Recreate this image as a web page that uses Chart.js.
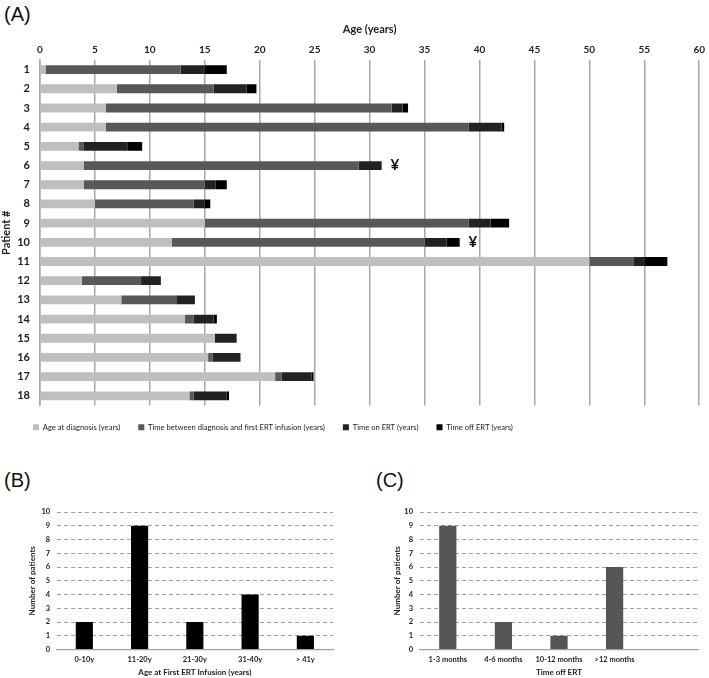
<!DOCTYPE html>
<html><head><meta charset="utf-8">
<script src="https://cdn.jsdelivr.net/npm/chart.js@4.4.1/dist/chart.umd.min.js"></script>
<style>
body{margin:0;background:#fff;width:709px;height:678px;overflow:hidden;position:relative;}
.lbl{position:absolute;font:20px "Liberation Sans",Arial,sans-serif;color:#111;}
#wa{position:absolute;left:0;top:0;width:709px;height:441px;}
#wb{position:absolute;left:0;top:495px;width:345px;height:183px;}
#wc{position:absolute;left:360px;top:495px;width:349px;height:183px;}
</style></head><body>
<div class="lbl" style="left:4px;top:3px">(A)</div>
<div class="lbl" style="left:4px;top:469px">(B)</div>
<div class="lbl" style="left:376px;top:469px">(C)</div>
<div id="wa"><canvas id="ca"></canvas></div>
<div id="wb"><canvas id="cb"></canvas></div>
<div id="wc"><canvas id="cc"></canvas></div>
<script>
// ---- Panel A data ----
const patients = ['1','2','3','4','5','6','7','8','9','10','11','12','13','14','15','16','17','18'];
const ageAtDiagnosis = [0.5, 7.0, 6.0, 6.0, 3.5, 4.0, 4.0, 5.0, 15.0, 12.0, 50.0, 3.8, 7.4, 13.2, 15.9, 15.3, 21.4, 13.6];
const timeToFirstERT = [12.3, 8.8, 26.0, 33.0, 0.5, 25.0, 11.0, 9.0, 24.0, 23.0, 4.0, 5.4, 5.0, 0.8, 0.0, 0.4, 0.6, 0.4];
const timeOnERT      = [2.2, 3.0, 1.0, 3.0, 4.0, 2.1, 1.0, 1.0, 2.0, 2.0, 1.0, 1.8, 1.7, 1.8, 2.0, 2.55, 2.7, 3.0];
const timeOffERT     = [2.0, 0.9, 0.5, 0.25, 1.3, 0.0, 1.0, 0.5, 1.7, 1.2, 2.1, 0.0, 0.0, 0.3, 0.0, 0.0, 0.2, 0.2];
const seriesNames = ['Age at diagnosis (years)','Time between diagnosis and first ERT infusion (years)','Time on ERT (years)','Time off ERT (years)'];
const markerPatients = ['6','10'];
const markerAge = [32.3, 39.4];
const markerSymbol = '¥';

// ---- Panel B data ----
const ageGroups = ['0-10y','11-20y','21-30y','31-40y','> 41y'];
const ageGroupCounts = [2, 9, 2, 4, 1];

// ---- Panel C data ----
const offPeriods = ['1-3 months','4-6 months','10-12 months','>12 months',''];
const offPeriodCounts = [9, 2, 1, 6, null];

const FONT = "Lato,'DejaVu Sans Condensed',sans-serif";

const markerPlugin = {
  id: 'markers',
  afterDatasetsDraw(chart) {
    const {ctx, scales: {x, y}} = chart;
    ctx.save();
    ctx.font = 'bold 15px ' + FONT;
    ctx.fillStyle = '#111';
    ctx.textAlign = 'center';
    ctx.textBaseline = 'middle';
    markerPatients.forEach((p, i) => {
      ctx.fillText(markerSymbol, x.getPixelForValue(markerAge[i]), y.getPixelForValue(patients.indexOf(p)));
    });
    ctx.restore();
  }
};

const colorsA = ['#bfbfbf', '#585858', '#222222', '#000000'];
const valsA = [ageAtDiagnosis, timeToFirstERT, timeOnERT, timeOffERT];

new Chart(document.getElementById('ca'), {
  type: 'bar',
  data: {
    labels: patients,
    datasets: valsA.map((v, i) => ({
      label: seriesNames[i], data: v, backgroundColor: colorsA[i],
      borderWidth: 0, barPercentage: 0.46, categoryPercentage: 1
    }))
  },
  options: {
    indexAxis: 'y', animation: false, responsive: true, maintainAspectRatio: false,
    layout: {padding: {left: 15, right: 7, top: 0, bottom: 0}},
    plugins: {
      tooltip: {enabled: false},
      legend: {
        position: 'bottom', align: 'start',
        labels: {boxWidth: 6, boxHeight: 6, padding: 18, color: '#222', font: {family: FONT, size: 7.6}}
      }
    },
    scales: {
      x: {
        position: 'top', stacked: true, min: 0, max: 60,
        ticks: {stepSize: 5, color: '#222', padding: 4, font: {family: FONT, size: 10, weight: 'bold'}},
        grid: {color: '#a8a8a8', lineWidth: 1.5, drawTicks: false},
        border: {display: false},
        title: {display: true, text: 'Age (years)', color: '#222', padding: {top: 23, bottom: 0}, font: {family: FONT, size: 11, weight: 'bold'}},
        afterFit(s) { s.height = 60; }
      },
      y: {
        stacked: true,
        ticks: {color: '#222', padding: 10, font: {family: FONT, size: 11, weight: 'bold'}},
        grid: {display: false, drawTicks: false},
        border: {display: true, color: '#a8a8a8', width: 1.5},
        title: {display: true, text: 'Patient #', color: '#222', padding: {top: -15, bottom: 0}, font: {family: FONT, size: 11, weight: 'bold'}},
        afterFit(s) { s.width = 25; }
      }
    }
  },
  plugins: [markerPlugin]
});

function smallBar(id, labels, data, color, xTitle, yTickPad, yTitlePad, yWidth, padRight) {
  return new Chart(document.getElementById(id), {
    type: 'bar',
    data: {labels, datasets: [{data, backgroundColor: color, borderWidth: 0, barPercentage: 0.31, categoryPercentage: 1}]},
    options: {
      animation: false, responsive: true, maintainAspectRatio: false,
      layout: {padding: {left: 0, right: padRight, top: 17, bottom: 0}},
      plugins: {legend: {display: false}, tooltip: {enabled: false}},
      scales: {
        x: {
          ticks: {color: '#222', padding: 6, autoSkip: false, maxRotation: 0, minRotation: 0, font: {family: FONT, size: 7.5, weight: 'bold'}},
          grid: {display: false, drawTicks: false},
          border: {display: true, color: '#a0a0a0', width: 1.2},
          title: {display: true, text: xTitle, color: '#222', padding: {top: 0, bottom: 1}, font: {family: FONT, size: 8, weight: 'bold'}},
          afterFit(s) { s.height = 28.5; }
        },
        y: {
          min: 0, max: 10,
          ticks: {stepSize: 1, color: '#222', padding: yTickPad, font: {family: FONT, size: 7.5, weight: 'bold'}},
          grid: {color: '#a0a0a0', lineWidth: 1, drawTicks: false},
          border: {display: false, dash: [4, 3]},
          title: {display: true, text: 'Number of patients', color: '#222', padding: {top: yTitlePad, bottom: 0}, font: {family: FONT, size: 8, weight: 'bold'}},
          afterFit(s) { s.width = yWidth; }
        }
      }
    }
  });
}

smallBar('cb', ageGroups, ageGroupCounts, '#000000', 'Age at First ERT Infusion (years)', 6.5, 28, 56.7, 12);
smallBar('cc', offPeriods, offPeriodCounts, '#555555', 'Time off ERT', 7, 33, 60, 11);
</script>
</body></html>
